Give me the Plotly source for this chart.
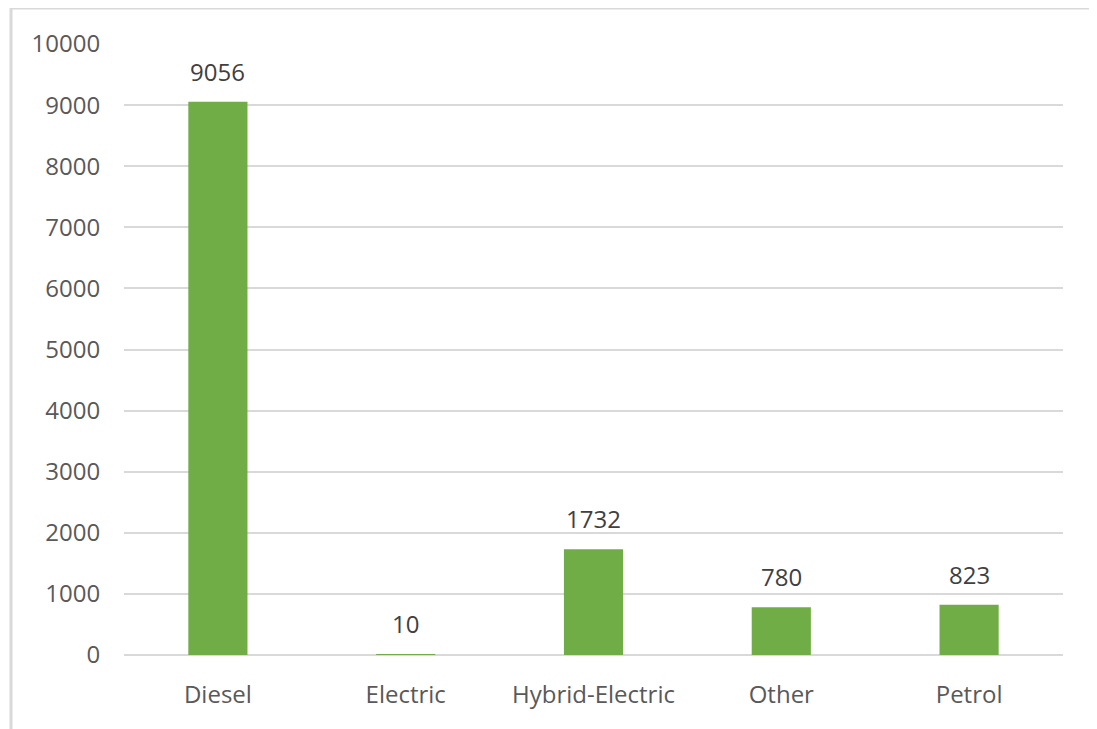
import plotly.graph_objects as go

categories = ["Diesel", "Electric", "Hybrid-Electric", "Other", "Petrol"]
values = [9056, 10, 1732, 780, 823]
y_ticks = [0, 1000, 2000, 3000, 4000, 5000, 6000, 7000, 8000, 9000, 10000]
y_tick_labels = [str(v) for v in y_ticks]

W, H = 1089, 721
L, R, T, B = 116, 34, 36, 74
pw, ph = W - L - R, H - T - B

FONT = "Open Sans"
TXT = "#595959"
FS = 24

fig = go.Figure()
fig.add_trace(go.Bar(
    x=categories, y=values,
    marker=dict(color="#70AD47", line=dict(width=0)),
    width=0.315,
))

for c, v in zip(categories, values):
    fig.add_annotation(x=c, y=v, text=str(v), showarrow=False,
                       yanchor="bottom", yshift=12,
                       font=dict(family=FONT, size=FS, color="#404040"))

def px_x(p):
    return (p - L) / pw

def px_y(p):
    return (H - B - p) / ph

fig.add_shape(type="rect", xref="paper", yref="paper",
              x0=px_x(3), x1=px_x(1085), y0=px_y(740), y1=px_y(0),
              line=dict(color="#D9D9D9", width=3), layer="below")

fig.update_layout(
    width=W, height=H,
    margin=dict(l=L, r=R, t=T, b=B),
    paper_bgcolor="white", plot_bgcolor="white",
    showlegend=False,
    bargap=0.685,
    font=dict(family=FONT, size=FS, color=TXT),
    xaxis=dict(showgrid=False, showline=False, ticks="outside", ticklen=18,
               tickcolor="rgba(0,0,0,0)",
               tickfont=dict(family=FONT, size=FS, color=TXT)),
    yaxis=dict(range=[0, 10000], tickvals=y_ticks, ticktext=y_tick_labels,
               showgrid=True,
               gridcolor="#D9D9D9", gridwidth=2,
               zeroline=True, zerolinecolor="#D9D9D9", zerolinewidth=2,
               showline=False, ticks="outside", ticklen=18,
               tickcolor="rgba(0,0,0,0)",
               tickfont=dict(family=FONT, size=FS, color=TXT)),
)

fig.write_html("out.html")
